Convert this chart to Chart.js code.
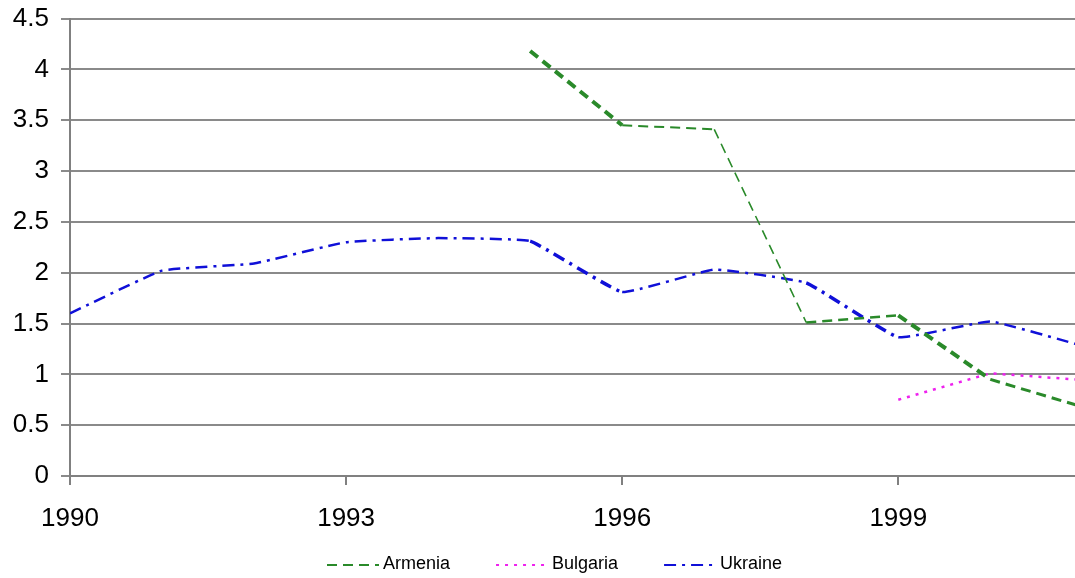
<!DOCTYPE html>
<html>
<head>
<meta charset="utf-8">
<script src="https://cdn.jsdelivr.net/npm/chart.js@4/dist/chart.umd.min.js"></script>
<style>
  html, body { margin: 0; padding: 0; background: #ffffff; }
  #wrap { width: 1075px; height: 578px; position: relative; }
</style>
</head>
<body>
<div id="wrap"><canvas id="c"></canvas></div>
<script>
// ---- data ----
const years = [1990, 1991, 1992, 1993, 1994, 1995, 1996, 1997, 1998, 1999, 2000, 2001];
const armenia = [null, null, null, null, null, 4.18, 3.45, 3.41, 1.51, 1.58, 0.95, 0.68];
const bulgaria = [null, null, null, null, null, null, null, null, null, 0.75, 1.01, 0.945];
const ukraine = [1.60, 2.02, 2.09, 2.30, 2.34, 2.31, 1.81, 2.03, 1.90, 1.365, 1.52, 1.28];
const seriesNames = ['Armenia', 'Bulgaria', 'Ukraine'];
const xTickYears = [1990, 1993, 1996, 1999];
const yTickValues = [0, 0.5, 1, 1.5, 2, 2.5, 3, 3.5, 4, 4.5];

// ---- styles ----
const armeniaSegWidths = [0, 0, 0, 0, 0, 4, 2, 1.6, 2.4, 4, 3];
const ukraineSegWidths = [2.5, 2.5, 2.5, 2.5, 2.5, 3.5, 2.5, 2.5, 3.5, 2.5, 2.5];

function toPoints(vals) {
  const pts = [];
  vals.forEach((v, i) => { if (v !== null) pts.push({x: years[i], y: v}); });
  return pts;
}
const armeniaStart = armenia.findIndex(v => v !== null);

const FONT = '"Liberation Sans", Arial, sans-serif';

const legendPlugin = {
  id: 'customLegend',
  afterDraw(chart) {
    const ctx = chart.ctx;
    ctx.save();
    ctx.font = '18px ' + FONT;
    ctx.textBaseline = 'middle';
    ctx.fillStyle = '#000';
    let x = 327;
    const y = 564;
    chart.data.datasets.forEach(ds => {
      ctx.save();
      ctx.strokeStyle = ds.borderColor;
      ctx.lineWidth = 2;
      ctx.setLineDash(ds.borderDash || []);
      ctx.beginPath();
      ctx.moveTo(x, y + 1);
      ctx.lineTo(x + 52, y + 1);
      ctx.stroke();
      ctx.restore();
      x += 56;
      ctx.fillText(ds.label, x, y);
      x += ctx.measureText(ds.label).width + 46;
    });
    ctx.restore();
  }
};

new Chart(document.getElementById('c'), {
  type: 'line',
  data: {
    datasets: [
      {
        label: seriesNames[0],
        data: toPoints(armenia),
        borderColor: '#2a8a2a',
        borderWidth: 2,
        borderDash: [10, 6],
        pointRadius: 0,
        tension: 0,
        segment: {
          borderWidth: c => armeniaSegWidths[c.p0DataIndex + armeniaStart]
        }
      },
      {
        label: seriesNames[1],
        data: toPoints(bulgaria),
        borderColor: '#ee22ee',
        borderWidth: 2.5,
        borderDash: [3, 6],
        pointRadius: 0,
        tension: 0
      },
      {
        label: seriesNames[2],
        data: toPoints(ukraine),
        borderColor: '#1010d8',
        borderWidth: 2.5,
        borderDash: [12, 6, 3, 6],
        pointRadius: 0,
        tension: 0.1,
        segment: {
          borderWidth: c => ukraineSegWidths[c.p0DataIndex]
        }
      }
    ]
  },
  options: {
    responsive: true,
    maintainAspectRatio: false,
    animation: false,
    layout: { padding: { top: 18.5, right: 0, bottom: 40, left: 0 } },
    plugins: {
      legend: { display: false },
      tooltip: { enabled: false }
    },
    scales: {
      x: {
        type: 'linear',
        min: 1990,
        max: 2000.92,
        afterBuildTicks: s => { s.ticks = xTickYears.map(v => ({value: v})); },
        afterFit: s => { s.height = 62; s.paddingLeft = 0; s.paddingRight = 0; },
        ticks: {
          color: '#000',
          font: { family: FONT, size: 26 },
          padding: 18,
          maxRotation: 0,
          autoSkip: false,
          callback: v => String(v)
        },
        grid: {
          drawOnChartArea: false,
          drawTicks: true,
          tickLength: 9,
          color: '#808080',
          lineWidth: 2
        },
        border: { display: true, color: '#808080', width: 2 }
      },
      y: {
        min: 0,
        max: 4.5,
        afterBuildTicks: s => { s.ticks = yTickValues.map(v => ({value: v})); },
        afterFit: s => { s.width = 70; s.paddingTop = 0; s.paddingBottom = 0; },
        ticks: {
          color: '#000',
          font: { family: FONT, size: 26 },
          padding: 12,
          callback: v => String(v)
        },
        grid: {
          drawTicks: true,
          tickLength: 9,
          color: '#8a8a8a',
          lineWidth: 2
        },
        border: { display: true, color: '#808080', width: 2 }
      }
    }
  },
  plugins: [legendPlugin]
});
</script>
</body>
</html>
